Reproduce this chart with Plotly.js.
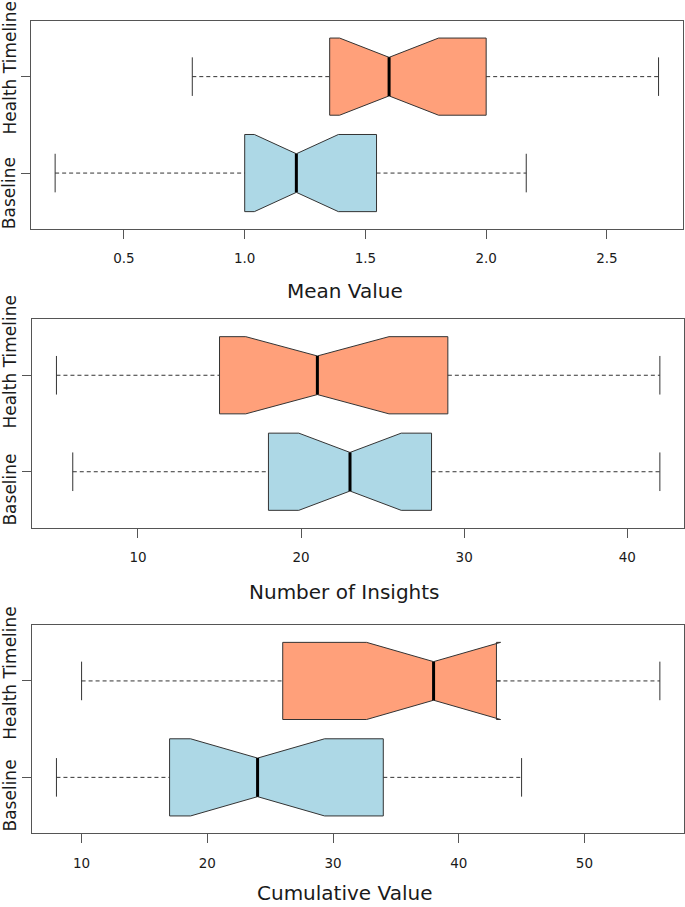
<!DOCTYPE html>
<html>
<head>
<meta charset="utf-8">
<script src="https://cdn.plot.ly/plotly-3.0.1.min.js"></script>
<style>
  html, body { margin: 0; padding: 0; background: #ffffff; }
  #chart { width: 685px; height: 907px; }
</style>
</head>
<body>
<div id="chart"></div>
<script>
// ---------------- data ----------------
const groups = ['Baseline', 'Health Timeline'];
const groupPos = [1, 2];

// Panel 1: Mean Value
const meanLower  = [0.215, 0.783];
const meanQ1     = [1.00, 1.352];
const meanMedian = [1.214, 1.598];
const meanQ3     = [1.546, 2.00];
const meanUpper  = [2.166, 2.714];
const meanNotch  = [0.174, 0.205];
const meanTicks  = [0.5, 1.0, 1.5, 2.0, 2.5];

// Panel 2: Number of Insights
const insLower  = [6, 5];
const insQ1     = [18, 15];
const insMedian = [23, 21];
const insQ3     = [28, 29];
const insUpper  = [42, 42];
const insNotch  = [3.14, 4.39];
const insTicks  = [10, 20, 30, 40];

// Panel 3: Cumulative Value
const cumLower  = [8, 10];
const cumQ1     = [17, 26];
const cumMedian = [24, 38];
const cumQ3     = [34, 43];
const cumUpper  = [45, 56];
const cumNotch  = [5.33, 5.33];
const cumTicks  = [10, 20, 30, 40, 50];

const panelTitles = ['Mean Value', 'Number of Insights', 'Cumulative Value'];

// ---------------- styles ----------------
const fills = ['#ADD8E6', '#FFA07A'];
const boxWidth = 0.8;
const halfStaple = boxWidth / 4;   // staple = half box width
const halfNotch = boxWidth / 4;    // notch waist = half box width
const FONT = 'DejaVu Sans, Verdana, sans-serif';
const TXT = '#1a1a1a';
const FRAME = '#555555';
const EDGE = '#333333';

const panels = [
  {lo: meanLower, q1: meanQ1, med: meanMedian, q3: meanQ3, hi: meanUpper, notch: meanNotch, ticks: meanTicks, fmt: '.1f'},
  {lo: insLower,  q1: insQ1,  med: insMedian,  q3: insQ3,  hi: insUpper,  notch: insNotch,  ticks: insTicks,  fmt: 'd'},
  {lo: cumLower,  q1: cumQ1,  med: cumMedian,  q3: cumQ3,  hi: cumUpper,  notch: cumNotch,  ticks: cumTicks,  fmt: 'd'}
];

// pixel geometry of the three panels (frame edges)
const W = 685, H = 907;
const frames = [
  {l: 31.0, r: 682.7, t: 20.7,  b: 229.0},
  {l: 32.3, r: 684.0, t: 319.3, b: 527.7},
  {l: 32.3, r: 684.0, t: 625.0, b: 833.3}
];
// label placements (pixel offsets relative to tick / frames)
const ylabShift = [[-20.3, 9], [-18, 13.5], [-18.3, 8]];
const titleY = [291, 592, 893];
const titleX = 344.5;

const traces = [];
const layout = {
  width: W, height: H,
  margin: {l: 0, r: 0, t: 0, b: 0},
  paper_bgcolor: '#ffffff',
  plot_bgcolor: '#ffffff',
  showlegend: false,
  boxmode: 'overlay',
  font: {family: FONT, color: TXT},
  annotations: []
};

panels.forEach((p, k) => {
  const sfx = k === 0 ? '' : String(k + 1);
  const xa = 'x' + sfx, ya = 'y' + sfx;
  const fr = frames[k];

  // R-style range: whisker extremes extended by 4%
  const mn = Math.min(...p.lo), mx = Math.max(...p.hi);
  const ext = 0.04 * (mx - mn);

  groups.forEach((g, i) => {
    const pos = groupPos[i];
    // notched box
    traces.push({
      type: 'box', orientation: 'h', name: g,
      xaxis: xa, yaxis: ya,
      y: [pos],
      q1: [p.q1[i]], median: [p.med[i]], q3: [p.q3[i]],
      lowerfence: [p.q1[i]], upperfence: [p.q3[i]],
      notchspan: [p.notch[i]],
      notched: true, notchwidth: 0.25,
      width: boxWidth, whiskerwidth: 0,
      boxpoints: false,
      fillcolor: fills[i],
      line: {color: EDGE, width: 1},
      hoverinfo: 'skip'
    });
    // dashed whiskers
    traces.push({
      type: 'scatter', mode: 'lines', xaxis: xa, yaxis: ya,
      x: [p.lo[i], p.q1[i], null, p.q3[i], p.hi[i]],
      y: [pos, pos, null, pos, pos],
      line: {color: EDGE, width: 1, dash: '4px,3px'},
      hoverinfo: 'skip'
    });
    // staples
    traces.push({
      type: 'scatter', mode: 'lines', xaxis: xa, yaxis: ya,
      x: [p.lo[i], p.lo[i], null, p.hi[i], p.hi[i]],
      y: [pos - halfStaple, pos + halfStaple, null, pos - halfStaple, pos + halfStaple],
      line: {color: EDGE, width: 1},
      hoverinfo: 'skip'
    });
    // thick median
    traces.push({
      type: 'scatter', mode: 'lines', xaxis: xa, yaxis: ya,
      x: [p.med[i], p.med[i]],
      y: [pos - halfNotch, pos + halfNotch],
      line: {color: '#000000', width: 3},
      hoverinfo: 'skip'
    });
    // rotated group label
    layout.annotations.push({
      text: g, textangle: -90, showarrow: false,
      xref: 'paper', yref: ya,
      x: 9.8 / W, y: pos, yshift: ylabShift[k][i],
      xanchor: 'center', yanchor: 'middle',
      font: {family: FONT, size: 17, color: TXT}
    });
  });

  layout['xaxis' + sfx] = {
    domain: [fr.l / W, fr.r / W],
    anchor: ya,
    range: [mn - ext, mx + ext],
    tickvals: p.ticks,
    tickformat: p.fmt,
    ticks: 'outside', ticklen: 9, tickwidth: 1, tickcolor: FRAME,
    ticklabelstandoff: 8,
    tickfont: {family: FONT, size: 13.5, color: TXT},
    showline: true, mirror: true, linecolor: FRAME, linewidth: 1,
    showgrid: false, zeroline: false, fixedrange: true
  };
  layout['yaxis' + sfx] = {
    domain: [1 - fr.b / H, 1 - fr.t / H],
    anchor: xa,
    range: [0.42, 2.58],
    tickvals: groupPos,
    showticklabels: false,
    ticks: 'outside', ticklen: 9, tickwidth: 1, tickcolor: FRAME,
    showline: true, mirror: true, linecolor: FRAME, linewidth: 1,
    showgrid: false, zeroline: false, fixedrange: true
  };

  layout.annotations.push({
    text: panelTitles[k], showarrow: false,
    xref: 'paper', yref: 'paper',
    x: titleX / W, y: 1 - titleY[k] / H,
    xanchor: 'center', yanchor: 'middle',
    font: {family: FONT, size: 20, color: TXT}
  });
});

Plotly.newPlot('chart', traces, layout, {staticPlot: true, displayModeBar: false});
</script>
</body>
</html>
